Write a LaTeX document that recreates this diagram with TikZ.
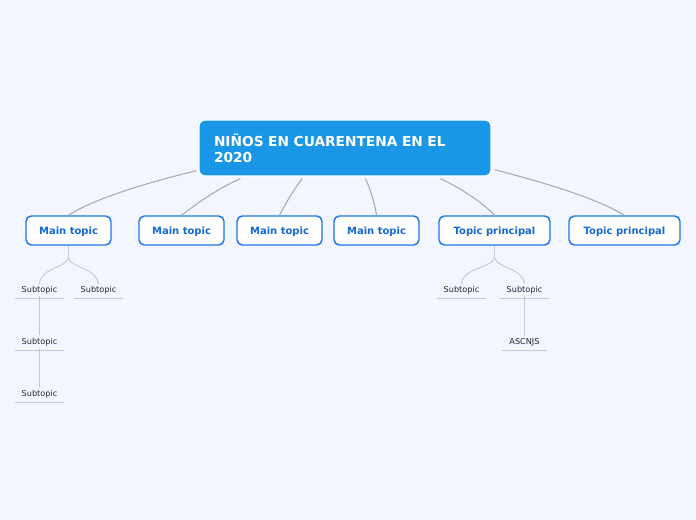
\documentclass[tikz,border=0pt]{standalone}
\usepackage{fontspec}
\setmainfont{DejaVu Sans}
\usetikzlibrary{calc}
\definecolor{bg}{RGB}{243,246,254}
\definecolor{cfill}{RGB}{26,150,230}
\definecolor{mborder}{RGB}{28,120,232}
\definecolor{mtext}{RGB}{20,104,214}
\definecolor{conn}{RGB}{170,170,175}
\definecolor{subconn}{RGB}{200,200,205}
\definecolor{subtext}{RGB}{40,40,45}
\tikzset{
  central/.style={rectangle, rounded corners=4pt, fill=cfill, draw=white, line width=1pt,
    minimum width=219pt, minimum height=42pt, text width=196.5pt, align=left, inner sep=0pt,
    text=white, font=\fontsize{10.3}{12.2}\selectfont\bfseries},
  maintopic/.style={rectangle, rounded corners=4pt, fill=white, draw=mborder, line width=1.1pt,
    minimum height=21.75pt, inner sep=0pt, text depth=0pt, text=mtext, font=\fontsize{7.5}{9}\selectfont\bfseries},
  subtopic/.style={rectangle, minimum width=36.75pt, minimum height=11.25pt, inner sep=0pt,
    text=subtext, font=\fontsize{6.1}{7}\selectfont},
  mconn/.style={draw=conn, line width=0.8pt},
  sconn/.style={draw=subconn, line width=0.7pt},
  uline/.style={draw=subconn, line width=0.7pt}
}
\begin{document}
\begin{tikzpicture}[x=0.75pt,y=-0.75pt]
\useasboundingbox[fill=bg] (0,0) rectangle (696,520);
\node[central] (c) at (345,148) {NIÑOS EN CUARENTENA EN EL\\2020};
\node[maintopic, minimum width=63.75pt] (m1) at (68.5,230.5) {Main topic};
\node[maintopic, minimum width=63.75pt] (m2) at (181.5,230.5) {Main topic};
\node[maintopic, minimum width=63.75pt] (m3) at (279.5,230.5) {Main topic};
\node[maintopic, minimum width=63.75pt] (m4) at (376.5,230.5) {Main topic};
\node[maintopic, minimum width=83.25pt] (m5) at (494.5,230.5) {Topic principal};
\node[maintopic, minimum width=83.25pt] (m6) at (624.5,230.5) {Topic principal};
% connectors from central topic
\draw[mconn] ([shift={(-2,-6)}]c.south west) .. controls (150,182) and (95,198) .. (m1.north);
\draw[mconn] ([shift={(42,2)}]c.south west) .. controls (215,190) and (195,205) .. (m2.north);
\draw[mconn] ([shift={(104,2)}]c.south west) .. controls (293,190) and (285,205) .. (m3.north);
\draw[mconn] ([shift={(167,2)}]c.south west) .. controls (371,190) and (375,205) .. (m4.north);
\draw[mconn] ([shift={(242,2)}]c.south west) .. controls (465,190) and (485,205) .. (m5.north);
\draw[mconn] ([shift={(3,-7)}]c.south east) .. controls (550,184) and (600,200) .. (m6.north);
% subtopics left
\node[subtopic] (s1) at (39.5,290.5) {Subtopic};
\node[subtopic] (s2) at (98.5,290.5) {Subtopic};
\node[subtopic] (s3) at (39.5,342.5) {Subtopic};
\node[subtopic] (s4) at (39.5,394.5) {Subtopic};
\foreach \n in {s1,s2,s3,s4} \draw[uline] (\n.south west) -- (\n.south east);
\coordinate (j1) at (68.5,258);
\draw[sconn] (m1.south) -- (j1);
\draw[sconn] (j1) .. controls (66,268) and (40,268) .. ([yshift=-1]s1.north);
\draw[sconn] (j1) .. controls (71,268) and (97,268) .. ([yshift=-1]s2.north);
\draw[sconn] ([yshift=2]s1.south) -- ([yshift=0]s3.north);
\draw[sconn] ([yshift=2]s3.south) -- ([yshift=0]s4.north);
% subtopics right
\node[subtopic] (s5) at (461.5,290.5) {Subtopic};
\node[subtopic] (s6) at (524.5,290.5) {Subtopic};
\node[subtopic, minimum width=33.75pt] (s7) at (524.5,342.5) {ASCNJS};
\foreach \n in {s5,s6,s7} \draw[uline] (\n.south west) -- (\n.south east);
\coordinate (j2) at (494.5,258);
\draw[sconn] (m5.south) -- (j2);
\draw[sconn] (j2) .. controls (492,268) and (462,268) .. ([yshift=-1]s5.north);
\draw[sconn] (j2) .. controls (497,268) and (523,268) .. ([yshift=-1]s6.north);
\draw[sconn] ([yshift=2]s6.south) -- ([yshift=-1]s7.north);
\end{tikzpicture}
\end{document}
